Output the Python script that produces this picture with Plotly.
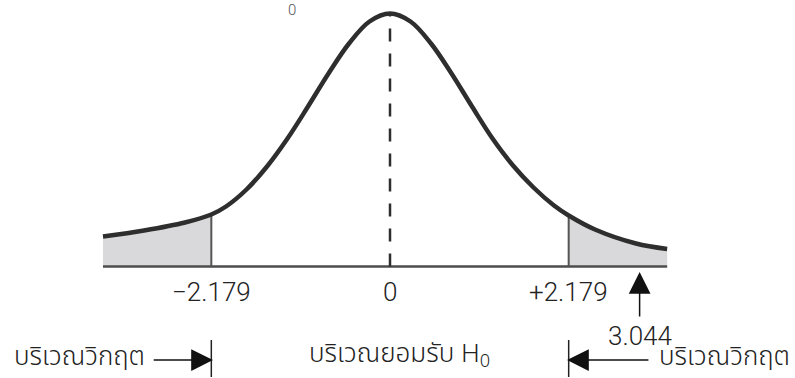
import plotly.graph_objects as go

# t-statistic positions along the horizontal axis and the drawn curve height there
t_vals = [-3.5, -3.0, -2.5, -2.179, -2.0, -1.75, -1.5, -1.25, -1.0, -0.75, -0.5, -0.25, 0.0,
          0.25, 0.5, 0.75, 1.0, 1.25, 1.5, 1.75, 2.0, 2.179, 2.5, 3.0, 3.38]
heights = [30, 36, 44, 52, 60, 77, 100, 128, 160, 193, 223, 245, 253,
           245, 223, 193, 160, 128, 101, 79, 61, 51, 37, 23, 17.5]

t_crit = 2.179       # critical value (two-tailed)
t_stat = 3.044       # computed test statistic
tick_vals = [-t_crit, 0.0, t_crit]
tick_text = ["\u22122.179", "0", "+2.179"]

region_reject = "บริเวณวิกฤต"
region_accept = "บริเวณยอมรับ H<sub>0</sub>"

CURVE = "#2e2e2e"
SHADE = "#d9d9db"
BASE = "#4d4d4d"
TXT = "#222222"
THAI_FONT = "Noto Sans Thai, Noto Sans, Liberation Sans, sans-serif"
NUM_FONT = "Roboto, Liberation Sans, Arial, sans-serif"

fig = go.Figure()

h_lo = heights[t_vals.index(-t_crit)]
h_hi = heights[t_vals.index(t_crit)]

# shaded rejection tails
left_idx = [i for i, t in enumerate(t_vals) if t <= -t_crit]
right_idx = [i for i, t in enumerate(t_vals) if t >= t_crit]
for idx in (left_idx, right_idx):
    fig.add_trace(go.Scatter(
        x=[t_vals[i] for i in idx], y=[heights[i] for i in idx],
        mode="lines", line=dict(width=0, shape="spline", color=SHADE),
        fill="tozeroy", fillcolor=SHADE, hoverinfo="skip", showlegend=False))

# baseline
fig.add_trace(go.Scatter(x=[t_vals[0], t_vals[-1]], y=[0, 0], mode="lines",
                         line=dict(color=BASE, width=2.5), showlegend=False, hoverinfo="skip"))

# critical value lines
for tc, hc in ((-t_crit, h_lo), (t_crit, h_hi)):
    fig.add_trace(go.Scatter(x=[tc, tc], y=[0, hc], mode="lines",
                             line=dict(color="#555555", width=2), showlegend=False, hoverinfo="skip"))

# dashed centre line
fig.add_trace(go.Scatter(x=[0, 0], y=[0, max(heights)], mode="lines",
                         line=dict(color=CURVE, width=2.5, dash="13px,12px"),
                         showlegend=False, hoverinfo="skip"))

# the density curve
fig.add_trace(go.Scatter(x=t_vals, y=heights, mode="lines",
                         line=dict(color=CURVE, width=4.5, shape="spline", smoothing=1.0),
                         showlegend=False, hoverinfo="skip"))

ann = []
# axis value labels
for v, s in zip(tick_vals, tick_text):
    ann.append(dict(x=v, y=-25.5, text=s, showarrow=False,
                    font=dict(family=NUM_FONT, size=26, color=TXT, weight=300)))

# arrow pointing at the test statistic
ann.append(dict(x=t_stat, y=-5.5, ax=t_stat, ay=-51.5, axref="x", ayref="y",
                text="", showarrow=True, arrowhead=2, arrowsize=2.9, arrowwidth=1.5,
                arrowcolor="#111111"))
ann.append(dict(x=t_stat, y=-69, text="3.044", showarrow=False,
                font=dict(family=NUM_FONT, size=26, color=TXT, weight=300)))

# region labels along the bottom
label_y = -90
ann.append(dict(x=-3.79, y=label_y, text=region_reject, showarrow=False,
                font=dict(family=THAI_FONT, size=26, color=TXT, weight=300)))
ann.append(dict(x=4.085, y=label_y, text=region_reject, showarrow=False,
                font=dict(family=THAI_FONT, size=26, color=TXT, weight=300)))
ann.append(dict(x=0.11, y=label_y + 2, text=region_accept, showarrow=False,
                font=dict(family=THAI_FONT, size=26, color=TXT, weight=300)))

# horizontal arrows towards the critical boundaries
ann.append(dict(x=-t_crit + 0.02, y=-93.5, ax=-2.9, ay=-93.5, axref="x", ayref="y",
                text="", showarrow=True, arrowhead=2, arrowsize=2.9, arrowwidth=1.5,
                arrowcolor="#111111"))
ann.append(dict(x=t_crit - 0.02, y=-93.5, ax=3.17, ay=-93.5, axref="x", ayref="y",
                text="", showarrow=True, arrowhead=2, arrowsize=2.9, arrowwidth=1.5,
                arrowcolor="#111111"))

# subscript fragment from the line of text above
ann.append(dict(x=-1.19, y=256.5, text="0", showarrow=False,
                font=dict(family=NUM_FONT, size=15, color="#555555", weight=300)))

shapes = []
for tc in (-t_crit, t_crit):
    shapes.append(dict(type="line", xref="x", yref="y", x0=tc, x1=tc, y0=-73.5, y1=-110.5,
                       line=dict(color="#222222", width=1.5)))

fig.update_layout(
    width=795, height=378,
    margin=dict(l=0, r=0, t=0, b=0),
    paper_bgcolor="white", plot_bgcolor="white",
    xaxis=dict(range=[-390 / 82, 405 / 82], visible=False, fixedrange=True),
    yaxis=dict(range=[-111.5, 266.5], visible=False, fixedrange=True),
    annotations=ann, shapes=shapes,
)

fig.write_html("out.html")
